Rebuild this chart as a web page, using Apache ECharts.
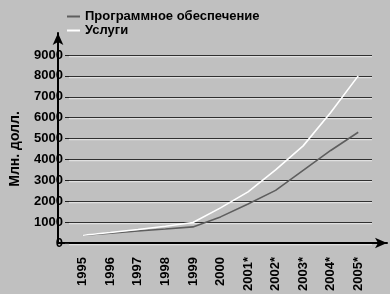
<!DOCTYPE html>
<html>
<head>
<meta charset="utf-8">
<script src="https://cdn.jsdelivr.net/npm/echarts@6/dist/echarts.min.js"></script>
<style>
html,body{margin:0;padding:0;background:#c0c0c0;}
#chart{width:390px;height:294px;}
</style>
</head>
<body>
<div id="chart"></div>
<script>
var categories = ['1995','1996','1997','1998','1999','2000','2001*','2002*','2003*','2004*','2005*'];
var softwareName = 'Программное обеспечение';
var servicesName = 'Услуги';
var software = [370, 470, 575, 670, 770, 1250, 1870, 2520, 3480, 4430, 5300];
var services = [370, 500, 645, 800, 980, 1680, 2450, 3500, 4650, 6250, 8000];
var yTicks = {min: 0, max: 9000, interval: 1000};
var yAxisName = 'Млн. долл.';

var font = '"Liberation Sans", Arial, sans-serif';
var chart = echarts.init(document.getElementById('chart'), null, {renderer: 'canvas'});
chart.setOption({
  backgroundColor: '#c0c0c0',
  animation: false,
  textStyle: {fontFamily: font},
  legend: {
    orient: 'vertical',
    left: 62,
    top: 5,
    itemGap: 1,
    itemWidth: 13,
    itemHeight: 2,
    icon: 'rect',
    textStyle: {fontFamily: font, fontWeight: 'bold', fontSize: 13, color: '#000'},
    data: [softwareName, servicesName]
  },
  grid: [
    {left: 58, right: 18, top: 55, bottom: 51},
    {left: 58, right: 3, top: 33, bottom: 51}
  ],
  xAxis: [
    {
      type: 'category', gridIndex: 0, data: categories, boundaryGap: true,
      axisLine: {show: false}, axisTick: {show: false},
      axisLabel: {rotate: 90, margin: 14, fontFamily: font, fontWeight: 'bold', fontSize: 13, color: '#000'}
    },
    {
      type: 'value', gridIndex: 1, min: 0, max: 1,
      axisLine: {show: true, lineStyle: {color: '#000', width: 2}, symbol: ['none', 'arrow'], symbolSize: [8, 12]},
      axisTick: {show: false}, axisLabel: {show: false}, splitLine: {show: false}
    }
  ],
  yAxis: [
    {
      type: 'value', gridIndex: 0, min: yTicks.min, max: yTicks.max, interval: yTicks.interval,
      name: yAxisName, nameLocation: 'middle', nameRotate: 90, nameGap: 47,
      nameTextStyle: {fontFamily: font, fontWeight: 'bold', fontSize: 14, color: '#000'},
      axisLine: {show: false},
      axisTick: {show: true, length: 4, lineStyle: {color: '#202020'}},
      axisLabel: {margin: 6, fontFamily: font, fontWeight: 'bold', fontSize: 13, color: '#000',
        formatter: function (v) { return String(v); }},
      splitLine: {show: true, lineStyle: {color: '#303030', width: 1, shadowColor: '#e8e8e8', shadowOffsetY: 1.2, shadowBlur: 0}}
    },
    {
      type: 'value', gridIndex: 1, min: 0, max: 1,
      axisLine: {show: true, lineStyle: {color: '#000', width: 2}, symbol: ['none', 'arrow'], symbolSize: [8, 12]},
      axisTick: {show: false}, axisLabel: {show: false}, splitLine: {show: false}
    }
  ],
  series: [
    {
      name: softwareName, type: 'line', xAxisIndex: 0, yAxisIndex: 0,
      data: software, symbol: 'none', itemStyle: {color: '#5e5e5e'},
      lineStyle: {color: '#5e5e5e', width: 1.6}
    },
    {
      name: servicesName, type: 'line', xAxisIndex: 0, yAxisIndex: 0,
      data: services, symbol: 'none', itemStyle: {color: '#ffffff'},
      lineStyle: {color: '#ffffff', width: 1.6}
    }
  ]
});
</script>
</body>
</html>
